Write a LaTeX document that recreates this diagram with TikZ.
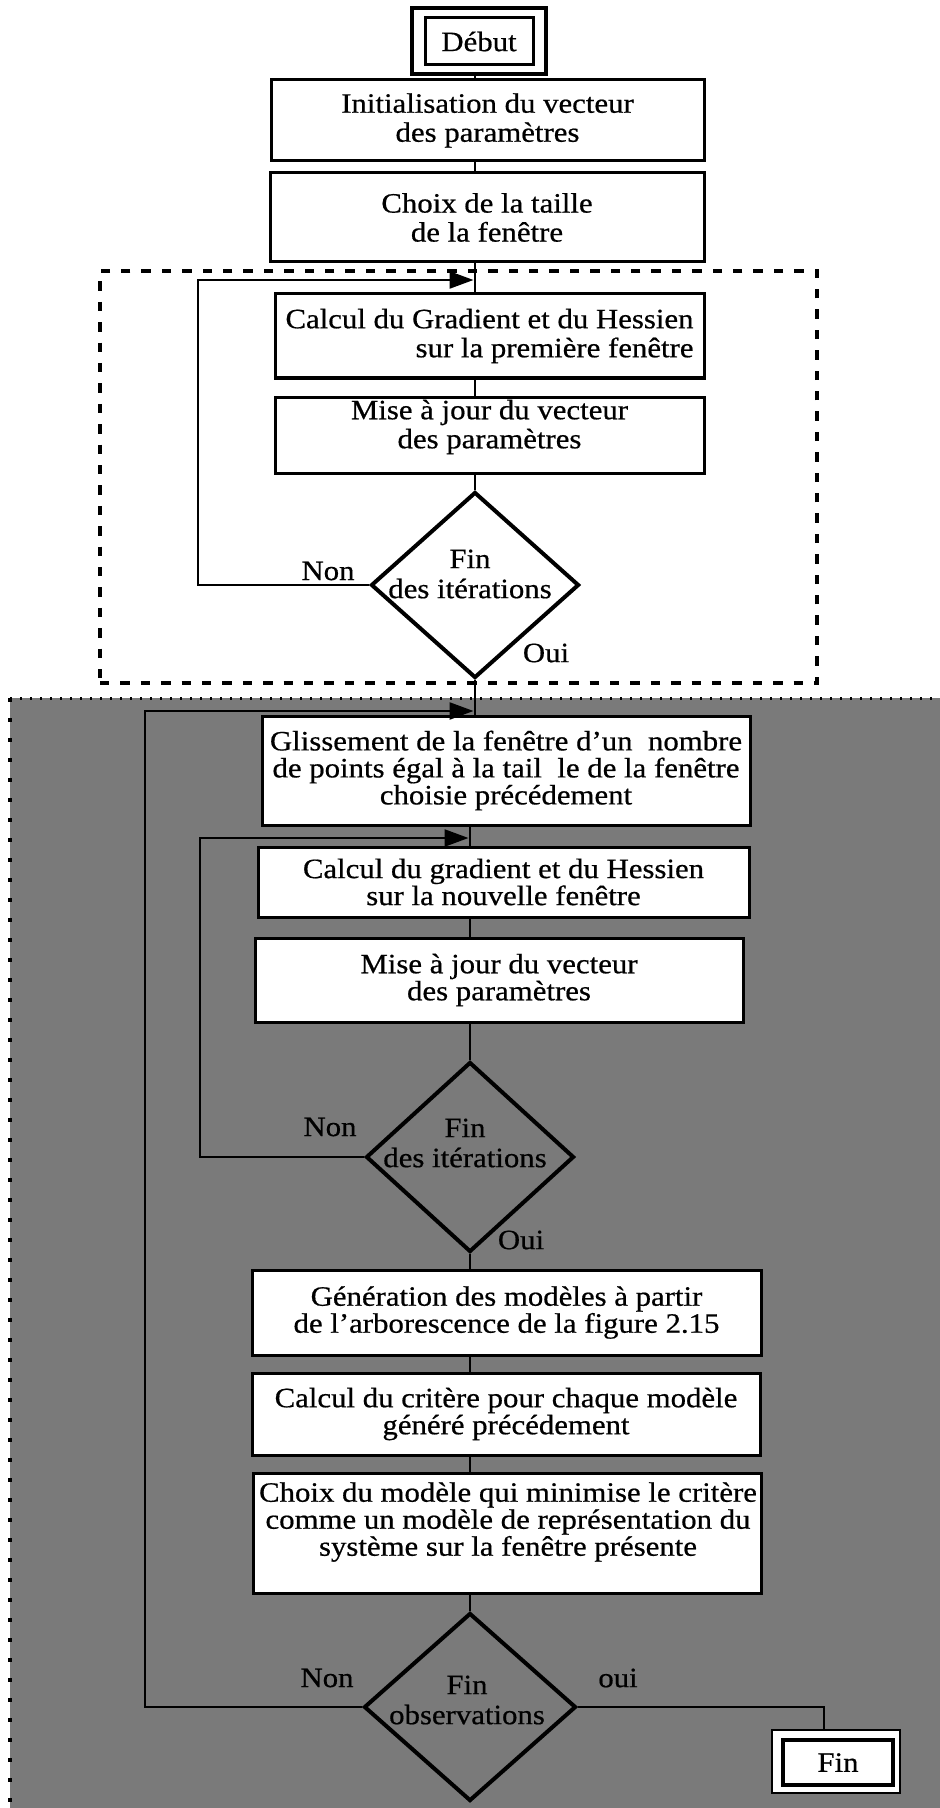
\documentclass[tikz,border=0pt]{standalone}
\usepackage{fontspec}
\setmainfont[FakeStretch=1.1,FakeBold=0.6]{Liberation Serif}
\usetikzlibrary{shapes.geometric,arrows.meta}
\begin{document}
\begin{tikzpicture}[x=0.5pt,y=-0.5pt,
  every node/.style={font=\fontsize{14pt}{14.5pt}\selectfont},
  box/.style={draw,line width=1.5pt,fill=white,inner sep=0pt,align=center},
  txt/.style={inner sep=0pt,align=center},
  low/.style={font=\fontsize{14pt}{13.5pt}\selectfont},
  dtxt/.style={inner sep=0pt,align=center,font=\fontsize{14pt}{15pt}\selectfont},
  dec/.style={draw,diamond,line width=2pt,inner sep=0pt},
  link/.style={line width=1.2pt},
  arr/.style={line width=1.2pt,-{Triangle[length=12pt,width=8.5pt]}},
  frame/.style={draw,line width=1.6pt,dash pattern=on 4.7pt off 5.5pt,inner sep=0pt},
  lbl/.style={inner sep=0pt}
]
\useasboundingbox[fill=white] (0,0) rectangle (940,1808);
% shaded lower region
\fill[black!52] (10,698) rectangle (940,1808);
\draw[line width=1.5pt,dash pattern=on 1pt off 4pt] (10,698) -- (940,698);
\draw[line width=2pt,dash pattern=on 2pt off 8pt] (10,698) -- (10,1808);

% dashed frame of the first stage
\node[frame,minimum width=358.5pt,minimum height=206pt] (stage1) at (458.5,477) {};

% upper column
\node[box,line width=1.8pt,minimum width=67pt,minimum height=33pt] (debutO) at (479,41) {};
\node[box,minimum width=54pt,minimum height=23.5pt] (debut) at (479,41.5) {Début};
\node[box,minimum width=216.5pt,minimum height=40.5pt] (init) at (487.5,120.5) {Initialisation du vecteur\\des paramètres};
\node[box,minimum width=217pt,minimum height=44.5pt] (choix) at (487,217.5) {Choix de la taille\\de la fenêtre};
\node[box,minimum width=214.5pt,minimum height=42pt,align=right] (calc1) at (489.5,336) {Calcul du Gradient et du Hessien\\sur la première fenêtre};
\node[box,minimum width=214.5pt,minimum height=38pt] (maj1) at (489.5,435) {};
\node[txt] (maj1t) at (489.5,427) {Mise à jour du vecteur\\des paramètres};
\node[dec,minimum width=104pt,minimum height=93pt] (fin1) at (475,585) {};
\node[dtxt] (fin1t) at (470,574) {Fin\\des itérations};
\node[lbl] (non1) at (328,571) {Non};
\node[lbl] (oui1) at (546,653) {Oui};

% lower column
\node[box,low,minimum width=244pt,minimum height=54.5pt] (gliss) at (506,770.5) {Glissement de la fenêtre d'un\ \ nombre\\de points égal à la tail\ \ le de la fenêtre\\choisie précédement};
\node[box,low,minimum width=245.5pt,minimum height=35pt] (calc2) at (503.5,882) {Calcul du gradient et du Hessien\\sur la nouvelle fenêtre};
\node[box,low,minimum width=244pt,minimum height=42pt] (maj2) at (499,980) {Mise à jour du vecteur\\des paramètres};
\node[dec,minimum width=104pt,minimum height=95pt] (fin2) at (470,1157) {};
\node[dtxt] (fin2t) at (465,1143) {Fin\\des itérations};
\node[lbl] (non2) at (330,1127) {Non};
\node[lbl] (oui2) at (521,1240) {Oui};
\node[box,low,minimum width=254.5pt,minimum height=42.5pt] (gen) at (506.5,1312.5) {Génération des modèles à partir\\de l'arborescence de la figure 2.15};
\node[box,low,minimum width=254pt,minimum height=41pt] (crit) at (506,1414) {Calcul du critère pour chaque modèle\\généré précédement};
\node[box,minimum width=254pt,minimum height=60pt] (cm) at (507,1533) {};
\node[txt,low] (cmt) at (508,1522) {Choix du modèle qui minimise le critère\\comme un modèle de représentation du\\système sur la fenêtre présente};
\node[dec,minimum width=106pt,minimum height=94pt] (fin3) at (470,1707) {};
\node[dtxt] (fin3t) at (467,1700) {Fin\\observations};
\node[lbl] (non3) at (327,1678) {Non};
\node[lbl] (oui3) at (618,1678) {oui};
\node[draw,fill=white,line width=1pt,minimum width=64pt,minimum height=31.5pt,inner sep=0pt] (finO) at (836,1761.5) {};
\node[box,line width=2pt,minimum width=55pt,minimum height=22.5pt] (fin) at (838,1762.5) {Fin};

% column references
\coordinate (cu) at (475,0);
\coordinate (cl) at (470,0);
\coordinate (fc) at (824,0);

% straight connectors
\draw[link] (debutO.south -| cu) -- (init.north -| cu);
\draw[link] (init.south -| cu) -- (choix.north -| cu);
\draw[link] (choix.south -| cu) -- (calc1.north -| cu);
\draw[link] (calc1.south -| cu) -- (maj1.north -| cu);
\draw[link] (maj1.south -| cu) -- (fin1.north);
\draw[link] (fin1.south) -- (gliss.north -| cu);
\draw[link] (gliss.south -| cl) -- (calc2.north -| cl);
\draw[link] (calc2.south -| cl) -- (maj2.north -| cl);
\draw[link] (maj2.south -| cl) -- (fin2.north);
\draw[link] (fin2.south) -- (gen.north -| cl);
\draw[link] (gen.south -| cl) -- (crit.north -| cl);
\draw[link] (crit.south -| cl) -- (cm.north -| cl);
\draw[link] (cm.south -| cl) -- (fin3.north);
\draw[link] (fin3.east) -| (finO.north -| fc);

% loops
\coordinate (l1) at (198,280);
\coordinate (j1) at (473.5,280);
\draw[arr] (fin1.west) -| (l1) -- (j1);
\coordinate (l2) at (200,838);
\coordinate (j2) at (468.5,838);
\draw[arr] (fin2.west) -| (l2) -- (j2);
\coordinate (l3) at (145,711);
\coordinate (j3) at (473.5,711);
\draw[arr] (fin3.west) -| (l3) -- (j3);
\end{tikzpicture}
\end{document}
